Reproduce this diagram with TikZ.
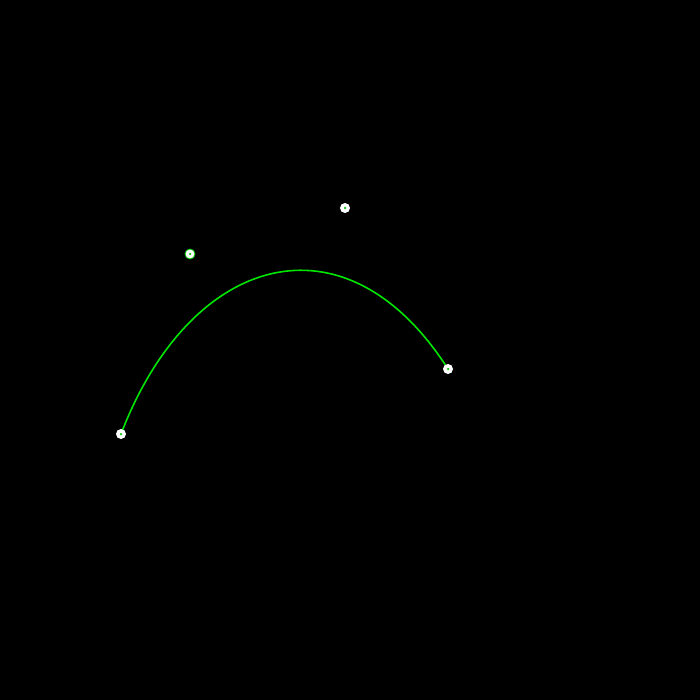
\documentclass[tikz,border=0pt]{standalone}
\begin{document}
\begin{tikzpicture}[x=1pt,y=-1pt,
  curvestyle/.style={draw={rgb,255:red,0;green,230;blue,0}, line width=1.6pt},
  handle/.style={circle, fill=white, inner sep=0pt, minimum size=10pt},
  handlec/.style={circle, fill=white, draw={rgb,255:red,0;green,200;blue,0}, line width=0.8pt, inner sep=0pt, minimum size=10pt},
  dotc/.style={circle, fill={rgb,255:red,0;green,200;blue,0}, inner sep=0pt, minimum size=2.5pt}]
\fill[black] (0,0) rectangle (700,700);
\useasboundingbox (0,0) rectangle (700,700);
\coordinate (p0) at (121,434);
\coordinate (c1) at (190,254);
\coordinate (c2) at (345,208);
\coordinate (p3) at (448,369);
\draw[curvestyle] (p0) .. controls (c1) and (c2) .. (p3);
\node[handle] (a) at (p0) {};
\node[handlec] (b) at (c1) {};
\node[handle] (c) at (c2) {};
\node[handle] (d) at (p3) {};
\node[dotc] (ad) at (p0) {};
\node[dotc] (bd) at (c1) {};
\node[dotc] (cd) at (c2) {};
\node[dotc] (dd) at (p3) {};
\end{tikzpicture}
\end{document}
